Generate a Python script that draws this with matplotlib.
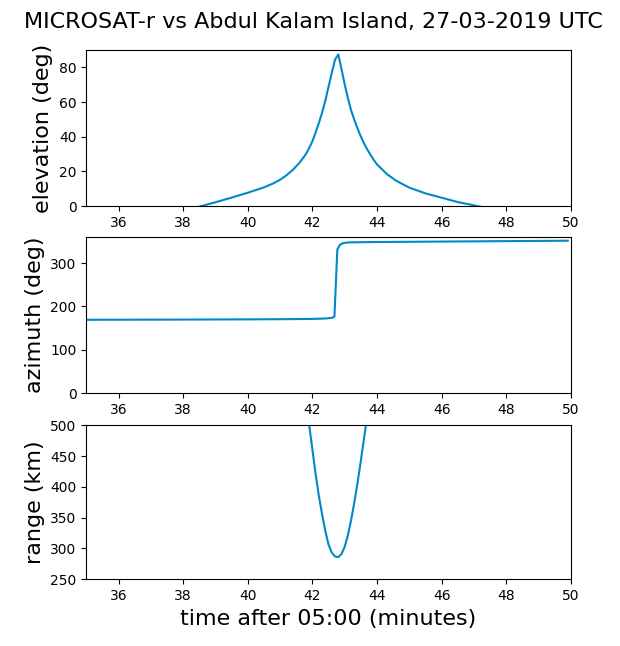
import numpy as np
import matplotlib
matplotlib.use("Agg")
import matplotlib.pyplot as plt

# time after 05:00 UTC (minutes) and look angles
t_elev = [35.0, 36.0, 37.0, 38.0, 38.5, 39.0, 39.5, 40.0, 40.5, 40.8, 41.0, 41.2,
          41.4, 41.6, 41.8, 41.9, 42.0, 42.1, 42.2, 42.3, 42.4, 42.5, 42.6, 42.7,
          42.8, 42.9, 43.0, 43.1, 43.2, 43.3, 43.4, 43.5, 43.6, 43.7, 43.8, 43.9,
          44.0, 44.3, 44.6, 45.0, 45.5, 46.0, 46.5, 47.0, 47.5, 48.0, 49.0, 49.9]
elev = [-14.0, -10.5, -6.5, -2.8, -0.3, 2.2, 4.9, 7.7, 10.8, 13.2, 15.2, 17.8,
        21.0, 25.0, 30.0, 33.5, 37.5, 42.5, 48.0, 54.0, 61.0, 69.0, 77.0, 84.5,
        87.5, 79.0, 70.0, 62.0, 55.0, 49.5, 44.5, 40.0, 36.0, 32.5, 29.5, 26.5,
        24.0, 18.5, 14.5, 10.6, 7.3, 4.8, 2.3, 0.4, -1.5, -3.2, -6.5, -9.5]

t_az = [35.0, 38.0, 40.0, 41.0, 42.0, 42.4, 42.6, 42.68, 42.77, 42.85, 42.95,
        43.1, 43.5, 44.0, 46.0, 48.0, 49.9]
az = [169.0, 169.5, 170.0, 170.3, 171.0, 172.0, 173.5, 176.0, 331.0, 342.0, 346.0,
      347.5, 348.0, 348.5, 349.5, 350.5, 351.5]

t_range = [35.0, 37.0, 39.0, 40.0, 41.0, 41.5, 41.7, 41.8, 41.9, 42.0, 42.1, 42.2,
           42.3, 42.4, 42.5, 42.6, 42.7, 42.8, 42.9, 43.0, 43.1, 43.2, 43.3, 43.4,
           43.5, 43.6, 43.7, 43.8, 44.0, 44.5, 45.0, 47.0, 49.9]
rng = [3300.0, 2500.0, 1650.0, 1250.0, 850.0, 660.0, 580.0, 540.0, 500.0, 460.0, 420.0, 385.0,
       355.0, 328.0, 306.0, 293.0, 287.0, 286.0, 291.0, 303.0, 322.0, 347.0, 376.0, 408.0,
       443.0, 480.0, 518.0, 556.0, 635.0, 840.0, 1050.0, 1900.0, 3100.0]

line_color = '#0088c8'
xticks = np.arange(36, 51, 2)

fig = plt.figure(figsize=(6.2, 6.46), dpi=100)
ax1 = fig.add_axes([0.139, 0.681, 0.782, 0.2415])
ax2 = fig.add_axes([0.139, 0.3916, 0.782, 0.2415])
ax3 = fig.add_axes([0.139, 0.1033, 0.782, 0.2385])

ax1.plot(t_elev, elev, color=line_color, lw=1.5)
ax1.set_ylim(0, 90)
ax1.set_ylabel('elevation (deg)', fontsize=16)

ax2.plot(t_az, az, color=line_color, lw=1.5)
ax2.set_ylim(0, 360)
ax2.set_ylabel('azimuth (deg)', fontsize=16)

ax3.plot(t_range, rng, color=line_color, lw=1.5)
ax3.set_ylim(250, 500)
ax3.set_ylabel('range (km)', fontsize=16)
ax3.set_xlabel('time after 05:00 (minutes)', fontsize=16)

for ax in (ax1, ax2, ax3):
    ax.set_xlim(35, 50)
    ax.set_xticks(xticks)

fig.text(0.505, 0.966, 'MICROSAT-r vs Abdul Kalam Island, 27-03-2019 UTC',
         ha='center', va='center', fontsize=16)

fig.savefig('out.png', dpi=100)
